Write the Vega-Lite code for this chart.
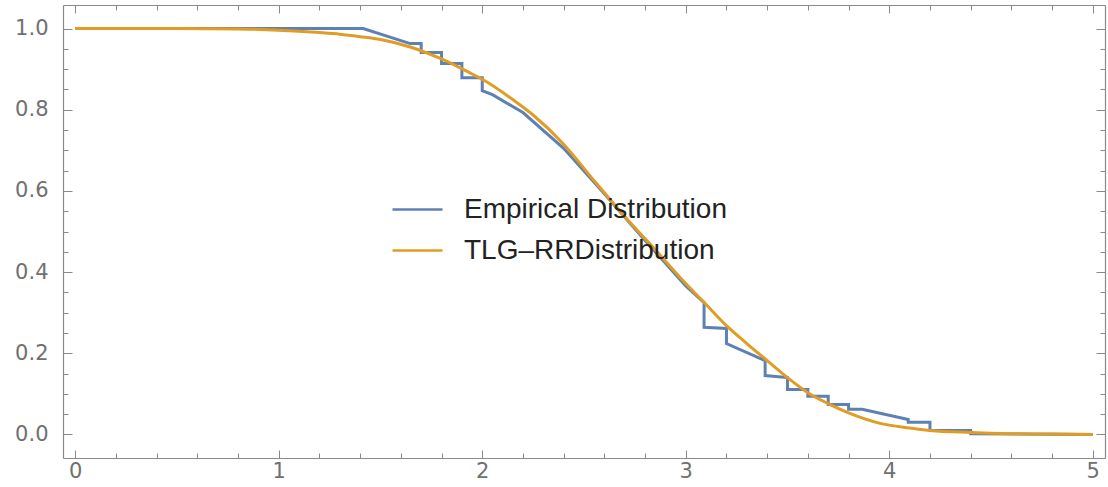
{
  "$schema": "https://vega.github.io/schema/vega-lite/v6.json",
  "width": 1042,
  "height": 453,
  "autosize": {"type": "none"},
  "padding": {"left": 63, "top": 5, "right": 3, "bottom": 29},
  "background": "white",
  "config": {
    "view": {"stroke": null},
    "axis": {
      "grid": false,
      "domainColor": "#8a8a8a",
      "domainWidth": 1.2,
      "tickColor": "#8a8a8a",
      "tickWidth": 1,
      "labelColor": "#707070",
      "labelFont": "DejaVu Sans",
      "labelFontSize": 21,
      "labelOverlap": false,
      "labelFlush": false,
      "title": null
    }
  },
  "datasets": {
    "empirical": [
      {"i": 0, "x": 0, "y": 1, "series": "Empirical Distribution"},
      {"i": 1, "x": 1.415, "y": 1, "series": "Empirical Distribution"},
      {"i": 2, "x": 1.646, "y": 0.963, "series": "Empirical Distribution"},
      {"i": 3, "x": 1.7, "y": 0.963, "series": "Empirical Distribution"},
      {"i": 4, "x": 1.7, "y": 0.941, "series": "Empirical Distribution"},
      {"i": 5, "x": 1.8, "y": 0.941, "series": "Empirical Distribution"},
      {"i": 6, "x": 1.8, "y": 0.914, "series": "Empirical Distribution"},
      {"i": 7, "x": 1.9, "y": 0.914, "series": "Empirical Distribution"},
      {"i": 8, "x": 1.9, "y": 0.879, "series": "Empirical Distribution"},
      {"i": 9, "x": 2.0, "y": 0.879, "series": "Empirical Distribution"},
      {"i": 10, "x": 2.0, "y": 0.847, "series": "Empirical Distribution"},
      {"i": 11, "x": 2.05, "y": 0.837, "series": "Empirical Distribution"},
      {"i": 12, "x": 2.2, "y": 0.793, "series": "Empirical Distribution"},
      {"i": 13, "x": 2.4, "y": 0.705, "series": "Empirical Distribution"},
      {"i": 14, "x": 2.6, "y": 0.593, "series": "Empirical Distribution"},
      {"i": 15, "x": 2.8, "y": 0.478, "series": "Empirical Distribution"},
      {"i": 16, "x": 3.0, "y": 0.366, "series": "Empirical Distribution"},
      {"i": 17, "x": 3.09, "y": 0.325, "series": "Empirical Distribution"},
      {"i": 18, "x": 3.09, "y": 0.264, "series": "Empirical Distribution"},
      {"i": 19, "x": 3.2, "y": 0.261, "series": "Empirical Distribution"},
      {"i": 20, "x": 3.2, "y": 0.224, "series": "Empirical Distribution"},
      {"i": 21, "x": 3.39, "y": 0.182, "series": "Empirical Distribution"},
      {"i": 22, "x": 3.39, "y": 0.145, "series": "Empirical Distribution"},
      {"i": 23, "x": 3.5, "y": 0.14, "series": "Empirical Distribution"},
      {"i": 24, "x": 3.5, "y": 0.111, "series": "Empirical Distribution"},
      {"i": 25, "x": 3.6, "y": 0.111, "series": "Empirical Distribution"},
      {"i": 26, "x": 3.6, "y": 0.094, "series": "Empirical Distribution"},
      {"i": 27, "x": 3.7, "y": 0.094, "series": "Empirical Distribution"},
      {"i": 28, "x": 3.7, "y": 0.074, "series": "Empirical Distribution"},
      {"i": 29, "x": 3.8, "y": 0.074, "series": "Empirical Distribution"},
      {"i": 30, "x": 3.8, "y": 0.062, "series": "Empirical Distribution"},
      {"i": 31, "x": 3.867, "y": 0.062, "series": "Empirical Distribution"},
      {"i": 32, "x": 4.093, "y": 0.037, "series": "Empirical Distribution"},
      {"i": 33, "x": 4.093, "y": 0.03, "series": "Empirical Distribution"},
      {"i": 34, "x": 4.2, "y": 0.03, "series": "Empirical Distribution"},
      {"i": 35, "x": 4.2, "y": 0.01, "series": "Empirical Distribution"},
      {"i": 36, "x": 4.4, "y": 0.01, "series": "Empirical Distribution"},
      {"i": 37, "x": 4.4, "y": 0.002, "series": "Empirical Distribution"},
      {"i": 38, "x": 5.0, "y": 0.0, "series": "Empirical Distribution"}
    ],
    "fitted": [
      {"x": 0.0, "y": 1.0, "series": "TLG–RRDistribution"},
      {"x": 0.5, "y": 1.0, "series": "TLG–RRDistribution"},
      {"x": 0.8, "y": 0.999, "series": "TLG–RRDistribution"},
      {"x": 1.0, "y": 0.996, "series": "TLG–RRDistribution"},
      {"x": 1.2, "y": 0.99, "series": "TLG–RRDistribution"},
      {"x": 1.3, "y": 0.986, "series": "TLG–RRDistribution"},
      {"x": 1.4, "y": 0.98, "series": "TLG–RRDistribution"},
      {"x": 1.5, "y": 0.973, "series": "TLG–RRDistribution"},
      {"x": 1.65, "y": 0.954, "series": "TLG–RRDistribution"},
      {"x": 1.8, "y": 0.925, "series": "TLG–RRDistribution"},
      {"x": 1.95, "y": 0.888, "series": "TLG–RRDistribution"},
      {"x": 2.0, "y": 0.875, "series": "TLG–RRDistribution"},
      {"x": 2.15, "y": 0.825, "series": "TLG–RRDistribution"},
      {"x": 2.25, "y": 0.787, "series": "TLG–RRDistribution"},
      {"x": 2.4, "y": 0.715, "series": "TLG–RRDistribution"},
      {"x": 2.55, "y": 0.625, "series": "TLG–RRDistribution"},
      {"x": 2.7, "y": 0.537, "series": "TLG–RRDistribution"},
      {"x": 2.85, "y": 0.455, "series": "TLG–RRDistribution"},
      {"x": 3.0, "y": 0.372, "series": "TLG–RRDistribution"},
      {"x": 3.1, "y": 0.32, "series": "TLG–RRDistribution"},
      {"x": 3.2, "y": 0.268, "series": "TLG–RRDistribution"},
      {"x": 3.3, "y": 0.224, "series": "TLG–RRDistribution"},
      {"x": 3.4, "y": 0.182, "series": "TLG–RRDistribution"},
      {"x": 3.5, "y": 0.14, "series": "TLG–RRDistribution"},
      {"x": 3.6, "y": 0.103, "series": "TLG–RRDistribution"},
      {"x": 3.7, "y": 0.076, "series": "TLG–RRDistribution"},
      {"x": 3.8, "y": 0.053, "series": "TLG–RRDistribution"},
      {"x": 3.95, "y": 0.028, "series": "TLG–RRDistribution"},
      {"x": 4.1, "y": 0.016, "series": "TLG–RRDistribution"},
      {"x": 4.2, "y": 0.01, "series": "TLG–RRDistribution"},
      {"x": 4.4, "y": 0.005, "series": "TLG–RRDistribution"},
      {"x": 4.6, "y": 0.002, "series": "TLG–RRDistribution"},
      {"x": 4.8, "y": 0.001, "series": "TLG–RRDistribution"},
      {"x": 5.0, "y": 0.0, "series": "TLG–RRDistribution"}
    ]
  },
  "layer": [
    {
      "data": {"name": "empirical"},
      "mark": {"type": "line", "strokeWidth": 3, "interpolate": "linear"},
      "encoding": {
        "x": {
          "field": "x", "type": "quantitative",
          "scale": {"domain": [-0.06, 5.06], "nice": false, "zero": false},
          "axis": {
            "orient": "bottom",
            "values": [0, 1, 2, 3, 4, 5],
            "format": "d",
            "tickSize": -8,
            "labelPadding": 10,
            "labelOverlap": false
          }
        },
        "y": {
          "field": "y", "type": "quantitative",
          "scale": {"domain": [-0.058, 1.058], "nice": false, "zero": false},
          "axis": {
            "orient": "left",
            "values": [0, 0.2, 0.4, 0.6, 0.8, 1],
            "format": ".1f",
            "tickSize": -9,
            "labelPadding": 24,
            "labelOverlap": false
          }
        },
        "order": {"field": "i", "type": "quantitative"},
        "color": {
          "field": "series", "type": "nominal",
          "scale": {"domain": ["Empirical Distribution", "TLG–RRDistribution"], "range": ["#5E81B5", "#E19C24"]},
          "legend": {
            "orient": "none", "legendX": 328, "legendY": 178, "title": null,
            "symbolType": "stroke", "symbolSize": 2500, "symbolStrokeWidth": 2.5,
            "labelFont": "Liberation Sans", "labelFontSize": 28, "labelColor": "#222222",
            "labelLimit": 0, "labelOffset": 20, "rowPadding": -9, "padding": 0
          }
        }
      }
    },
    {
      "data": {"name": "fitted"},
      "mark": {"type": "line", "strokeWidth": 3, "interpolate": "monotone"},
      "encoding": {
        "x": {
          "field": "x", "type": "quantitative",
          "scale": {"domain": [-0.06, 5.06], "nice": false, "zero": false},
          "axis": {"orient": "top", "labels": false, "values": [0, 1, 2, 3, 4, 5], "tickSize": -8}
        },
        "y": {
          "field": "y", "type": "quantitative",
          "scale": {"domain": [-0.058, 1.058], "nice": false, "zero": false},
          "axis": {"orient": "right", "labels": false, "values": [0, 0.2, 0.4, 0.6, 0.8, 1], "tickSize": -9}
        },
        "color": {
          "field": "series", "type": "nominal",
          "scale": {"domain": ["Empirical Distribution", "TLG–RRDistribution"], "range": ["#5E81B5", "#E19C24"]},
          "legend": {
            "orient": "none", "legendX": 328, "legendY": 178, "title": null,
            "symbolType": "stroke", "symbolSize": 2500, "symbolStrokeWidth": 2.5,
            "labelFont": "Liberation Sans", "labelFontSize": 28, "labelColor": "#222222",
            "labelLimit": 0, "labelOffset": 20, "rowPadding": -9, "padding": 0
          }
        }
      }
    },
    {
      "data": {"name": "fitted"},
      "mark": {"type": "line", "opacity": 0},
      "encoding": {
        "x": {
          "field": "x", "type": "quantitative",
          "scale": {"domain": [-0.06, 5.06], "nice": false, "zero": false},
          "axis": {
            "orient": "bottom", "labels": false, "domain": false, "tickSize": -5,
            "values": [0.2, 0.4, 0.6, 0.8, 1.2, 1.4, 1.6, 1.8, 2.2, 2.4, 2.6, 2.8, 3.2, 3.4, 3.6, 3.8, 4.2, 4.4, 4.6, 4.8]
          }
        },
        "y": {
          "field": "y", "type": "quantitative",
          "scale": {"domain": [-0.058, 1.058], "nice": false, "zero": false},
          "axis": {
            "orient": "left", "labels": false, "domain": false, "tickSize": -5,
            "values": [0.05, 0.1, 0.15, 0.25, 0.3, 0.35, 0.45, 0.5, 0.55, 0.65, 0.7, 0.75, 0.85, 0.9, 0.95]
          }
        }
      }
    },
    {
      "data": {"name": "fitted"},
      "mark": {"type": "line", "opacity": 0},
      "encoding": {
        "x": {
          "field": "x", "type": "quantitative",
          "scale": {"domain": [-0.06, 5.06], "nice": false, "zero": false},
          "axis": {
            "orient": "top", "labels": false, "domain": false, "tickSize": -5,
            "values": [0.2, 0.4, 0.6, 0.8, 1.2, 1.4, 1.6, 1.8, 2.2, 2.4, 2.6, 2.8, 3.2, 3.4, 3.6, 3.8, 4.2, 4.4, 4.6, 4.8]
          }
        },
        "y": {
          "field": "y", "type": "quantitative",
          "scale": {"domain": [-0.058, 1.058], "nice": false, "zero": false},
          "axis": {
            "orient": "right", "labels": false, "domain": false, "tickSize": -5,
            "values": [0.05, 0.1, 0.15, 0.25, 0.3, 0.35, 0.45, 0.5, 0.55, 0.65, 0.7, 0.75, 0.85, 0.9, 0.95]
          }
        }
      }
    }
  ],
  "resolve": {"axis": {"x": "independent", "y": "independent"}}
}
